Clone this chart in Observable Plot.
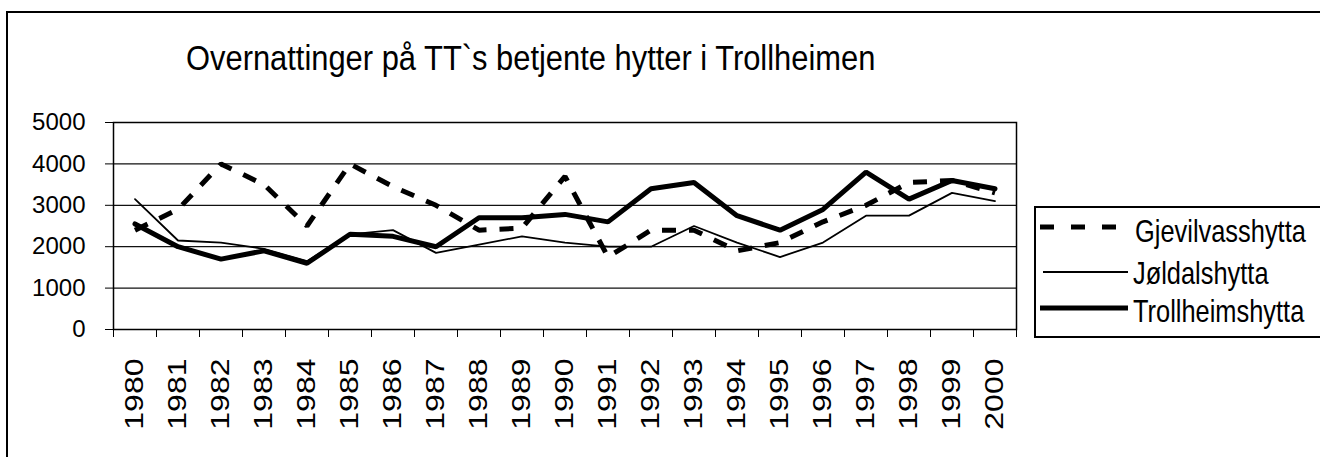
<!DOCTYPE html>
<html><head><meta charset="utf-8">
<script src="https://cdn.jsdelivr.net/npm/d3@7"></script>
<script src="https://cdn.jsdelivr.net/npm/@observablehq/plot@0.6"></script>
<style>
html,body{margin:0;padding:0;background:#fff;overflow:hidden;}
#wrap{position:relative;width:1320px;height:457px;overflow:hidden;background:#fff;}
#wrap svg{position:absolute;left:0;top:0;}
</style></head><body><div id="wrap"></div>
<script>
const years = [1980,1981,1982,1983,1984,1985,1986,1987,1988,1989,1990,1991,1992,1993,1994,1995,1996,1997,1998,1999,2000];
const gjevilvasshytta = [2400,2900,4000,3500,2500,4000,3450,3000,2400,2450,3700,1750,2400,2400,1900,2100,2600,3000,3550,3600,3300];
const joldalshytta    = [3150,2150,2100,1950,1650,2300,2400,1850,2050,2250,2100,2000,2000,2500,2100,1750,2100,2750,2750,3300,3100];
const trollheimshytta = [2550,2000,1700,1900,1600,2300,2250,2000,2700,2700,2780,2600,3400,3550,2750,2400,2900,3800,3150,3600,3400];
const seriesNames = ["Gjevilvasshytta","Jøldalshytta","Trollheimshytta"];
const yTicks = [0,1000,2000,3000,4000,5000];
const titleText = "Overnattinger på TT`s betjente hytter i Trollheimen";

const toRows = vals => years.map((year,i)=>({year, value: vals[i]}));
const rowsG = toRows(gjevilvasshytta), rowsJ = toRows(joldalshytta), rowsT = toRows(trollheimshytta);
const boundaries = years.map(y=>y-0.5).concat([years[years.length-1]+0.5]);

const chart = Plot.plot({
  width:1320, height:457,
  marginLeft:113, marginRight:304, marginTop:122, marginBottom:128,
  style:{background:"transparent", fontFamily:"'Liberation Sans', Arial, sans-serif", color:"#000", overflow:"visible"},
  x:{type:"linear", domain:[boundaries[0], boundaries[boundaries.length-1]], label:null},
  y:{domain:[0,5000], label:null},
  marks:[
    Plot.ruleY(yTicks.slice(1), {stroke:"#111", strokeWidth:1.2}),
    Plot.frame({stroke:"#000", strokeWidth:1.5}),
    Plot.axisY({ticks:yTicks, tickSize:8, tickPadding:20, fontSize:24, tickFormat:d=>String(d), label:null}),
    Plot.axisX({ticks:boundaries, tickSize:8, tickFormat:()=>"", label:null}),
    Plot.axisX({ticks:years, tickSize:0, tickPadding:29, tickRotate:-90, tickFormat:d=>String(d), fontSize:25, fontFamily:"'Liberation Sans', Arial, sans-serif", label:null}),
    Plot.line(rowsG, {x:"year", y:"value", stroke:"#000", strokeWidth:5, strokeDasharray:"14,13", strokeLinecap:"butt", strokeLinejoin:"miter"}),
    Plot.line(rowsJ, {x:"year", y:"value", stroke:"#000", strokeWidth:1.8, strokeLinejoin:"miter"}),
    Plot.line(rowsT, {x:"year", y:"value", stroke:"#000", strokeWidth:5, strokeLinejoin:"miter"})
  ]
});
document.getElementById("wrap").appendChild(chart);

// stretch the rotated year labels along their reading direction (as in the reference)
d3.select(chart).selectAll("g[aria-label='x-axis tick label'] text").each(function(){
  const t = d3.select(this);
  if (!t.text()) return;
  const tr = t.attr("transform") || "";
  t.attr("transform", tr + " scale(1.28,1)");
});

// overlay: outer frame, title, legend
const ov = d3.select("#wrap").append("svg").attr("width",1320).attr("height",457).style("pointer-events","none");
ov.append("path").attr("d","M7,457V12H1320").attr("fill","none").attr("stroke","#000").attr("stroke-width",2);
ov.append("text").attr("transform","translate(186,70) scale(0.858,1)")
  .attr("font-family","'Liberation Sans', Arial, sans-serif").attr("font-size",36).attr("fill","#000").text(titleText);

const lg = ov.append("g");
lg.append("rect").attr("x",1035).attr("y",207).attr("width",300).attr("height",130)
  .attr("fill","#fff").attr("stroke","#000").attr("stroke-width",2);
const legendItems = [
  {name:seriesNames[0], x1:1040, x2:1117, y:227, w:5, dash:"14,17", tx:1135, ty:241.5},
  {name:seriesNames[1], x1:1043, x2:1128, y:272, w:1.8, dash:null, tx:1133, ty:284},
  {name:seriesNames[2], x1:1040, x2:1128, y:308, w:5, dash:null, tx:1133, ty:322}
];
legendItems.forEach(it=>{
  const l = lg.append("line").attr("x1",it.x1).attr("x2",it.x2).attr("y1",it.y).attr("y2",it.y)
    .attr("stroke","#000").attr("stroke-width",it.w);
  if(it.dash) l.attr("stroke-dasharray",it.dash);
  lg.append("text").attr("transform",`translate(${it.tx},${it.ty}) scale(0.82,1)`)
    .attr("font-family","'Liberation Sans', Arial, sans-serif").attr("font-size",31).attr("fill","#000").text(it.name);
});
</script></body></html>
